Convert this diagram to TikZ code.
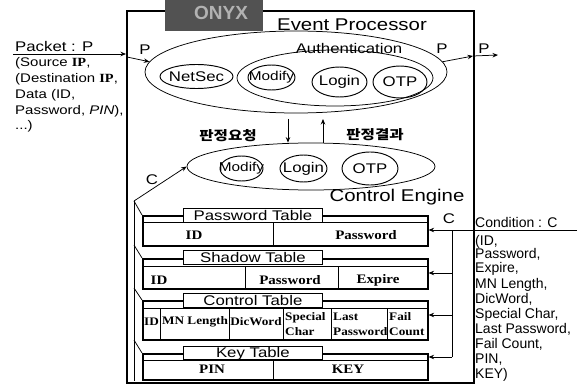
\documentclass[tikz,border=0pt]{standalone}
\usepackage{fontspec}
\setmainfont{Liberation Sans}
\newfontfamily\sw[FakeStretch=1.2]{Liberation Sans}
\newfontfamily\rw[FakeStretch=1.15]{Liberation Serif}
\newfontfamily\kr[FakeStretch=1.2]{Noto Sans CJK KR}
\usetikzlibrary{shapes.geometric,arrows.meta}

\tikzset{
  sysframe/.style={draw, line width=1.8pt, inner sep=0pt},
  onyxtag/.style={fill=black!68, inner sep=0pt},
  oval/.style={ellipse, draw, line width=0.75pt, inner sep=0pt},
  subop/.style={ellipse, draw, line width=0.95pt, inner sep=0pt},
  lbl/.style={inner sep=0pt, font=\sw\fontsize{14}{14}\selectfont},
  lblmod/.style={inner sep=0pt, font=\sw\fontsize{12.8}{12.8}\selectfont},
  bigtitle/.style={inner sep=0pt, font=\sw\fontsize{17}{17}\selectfont},
  kortext/.style={inner sep=0pt, font=\kr\bfseries\fontsize{13}{13}\selectfont},
  pktline/.style={inner sep=0pt, anchor=base west, font=\sw\fontsize{12.5}{12.5}\selectfont},
  condline/.style={inner sep=0pt, anchor=base west, font=\fontsize{14}{14}\selectfont},
  tbody/.style={draw, line width=1.6pt, inner sep=0pt, anchor=north west},
  ttitle/.style={draw, fill=white, line width=0.8pt, inner sep=0pt, anchor=north west,
                 minimum width=139pt, minimum height=14pt},
  tname/.style={inner sep=0pt, font=\sw\fontsize{14}{14}\selectfont},
  rowline/.style={line width=0.7pt},
  cell/.style={inner sep=0pt, font=\rw\bfseries\fontsize{13}{13}\selectfont},
  smcell/.style={inner sep=0pt, font=\rw\bfseries\fontsize{11.5}{11.5}\selectfont},
  smcellw/.style={smcell, anchor=base west},
  wire/.style={line width=0.75pt},
  arr/.style={wire, -{Stealth[length=5.5pt,width=4.5pt]}},
}

\begin{document}
\begin{tikzpicture}[x=1pt,y=-1pt]
\useasboundingbox (0,0) rectangle (581,385);

% ---- system frame and its tag ----
\node[sysframe, anchor=north west, minimum width=347pt, minimum height=372pt] (sys) at (126,10) {};
\node[onyxtag, anchor=north west, minimum width=98pt, minimum height=31pt] (onyx) at (165,0) {};
\node[inner sep=0pt, text=black!30, font=\bfseries\fontsize{19}{19}\selectfont] (onyxname) at (221,13) {ONYX};

% ---- event processor ----
\node[bigtitle] (eptitle) at (352,25) {Event Processor};
\node[oval, minimum width=302pt, minimum height=82pt] (ep) at (296,72) {};
\node[oval, minimum width=196pt, minimum height=56pt] (auth) at (335,78) {};
\node[lbl] (authname) at (349,48) {Authentication};

\node[subop, minimum width=73pt, minimum height=24pt] (netsec) at (196.5,76.5) {};
\node[lbl] at (netsec) {NetSec};
\node[subop, minimum width=47pt, minimum height=25pt] (modA) at (271.5,77.5) {};
\node[lblmod] at (modA) {Modify};
\node[subop, minimum width=55pt, minimum height=30pt] (loginA) at (339.5,82) {};
\node[lbl] at (loginA) {Login};
\node[subop, minimum width=54pt, minimum height=32pt] (otpA) at (400,82) {};
\node[lbl] at (otpA) {OTP};

% ---- control engine ----
\node[oval, minimum width=248pt, minimum height=47pt] (ce) at (311,166.5) {};
\node[subop, minimum width=43pt, minimum height=25pt] (modB) at (241.5,168.5) {};
\node[lblmod] at (modB) {Modify};
\node[subop, minimum width=47pt, minimum height=27pt] (loginB) at (303.5,168.5) {};
\node[lbl] at (loginB) {Login};
\node[subop, minimum width=56pt, minimum height=33pt] (otpB) at (370,168.5) {};
\node[lbl] at (otpB) {OTP};
\node[bigtitle] (cetitle) at (397,197) {Control Engine};

% ---- request / result between the two engines ----
\coordinate (req) at (288,119);
\coordinate (res) at (323,119);
\draw[arr] (req) -- (req |- ce.north);
\draw[arr] (res |- ce.north) -- (res);
\node[kortext] (reqname) at (228,136) {판정요청};
\node[kortext] (resname) at (375,135) {판정결과};

% ---- packet in and out ----
\node[lbl, anchor=base west] (pkt) at (15,52) {Packet : P};
\coordinate (pktstart) at (13,54);
\draw[arr] (pktstart) -- (pktstart -| sys.west);
\coordinate (pin) at (127,57);
\draw[arr] (pin) -- (ep.176);
\node[lbl] (pinlbl) at (145,50) {P};
\coordinate (pout) at (473,56);
\coordinate (pend) at (498,55);
\draw[arr] (ep.4) -- (pout);
\draw[arr] (pout) -- (pend);
\node[lbl] (poutlbl) at (442,49) {P};
\node[lbl] (pendlbl) at (484,49) {P};

\node[pktline] (pk1) at (15,67) {(Source {\rw\bfseries IP},};
\node[pktline] (pk2) at (15,83) {(Destination {\rw\bfseries IP},};
\node[pktline] (pk3) at (15,99) {Data (ID,};
\node[pktline] (pk4) at (15,115) {Password, {\itshape PIN}),};
\node[pktline] (pk5) at (15,130) {...)};

% ---- tables ----
% Password Table
\node[tbody, minimum width=285pt, minimum height=30pt] (pwt) at (142,215) {};
\draw[rowline] (142,222) -- (427,222);
\draw[rowline] (273,222) -- (273,245);
\node[ttitle] (pwtt) at (183,208) {};
\node[tname] at ([yshift=-0.5pt]pwtt.center) {Password Table};
\node[cell] at (194,235) {ID};
\node[cell] at (366,235) {Password};

% Shadow Table
\node[tbody, minimum width=285pt, minimum height=30pt] (sdt) at (142,258) {};
\draw[rowline] (142,266) -- (427,266);
\draw[rowline] (245,266) -- (245,288);
\draw[rowline] (338,266) -- (338,288);
\node[ttitle] (sdtt) at (183,250) {};
\node[tname] at ([yshift=-0.5pt]sdtt.center) {Shadow Table};
\node[cell] at (159,280) {ID};
\node[cell] at (290,280) {Password};
\node[cell] at (378,280) {Expire};

% Control Table
\node[tbody, minimum width=285pt, minimum height=39pt] (ctt) at (142,300) {};
\draw[rowline] (142,308) -- (427,308);
\foreach \cx in {160,229,283,331,387} \draw[rowline] (\cx,308) -- (\cx,339);
\node[ttitle] (cttt) at (183,293) {};
\node[tname] at ([yshift=-0.5pt]cttt.center) {Control Table};
\node[smcell] at (151.5,322) {ID};
\node[smcell] at (195,322) {MN Length};
\node[smcell] at (256,322) {DicWord};
\node[smcellw] at (285,320) {Special};
\node[smcellw] at (285,335) {Char};
\node[smcellw] at (333,320) {Last};
\node[smcellw] at (333,335) {Password};
\node[smcellw] at (389,320) {Fail};
\node[smcellw] at (389,335) {Count};

% Key Table
\node[tbody, minimum width=285pt, minimum height=26pt] (kyt) at (142,353) {};
\draw[rowline] (142,360) -- (427,360);
\draw[rowline] (273,360) -- (273,379);
\node[ttitle, minimum height=13pt] (kytt) at (183,346) {};
\node[tname] at ([yshift=-0.5pt]kytt.center) {Key Table};
\node[cell] at (212,369) {PIN};
\node[cell] at (348,369) {KEY};

% ---- condition bus (right) ----
\coordinate (condend) at (577,230);
\coordinate (j1) at (452,230);
\coordinate (j2) at (452,273);
\coordinate (j3) at (452,315);
\coordinate (j4) at (452,357);
\draw[wire] (condend) -- (j1) -- (j4);
\draw[arr] (j1) -- (j1 -| pwt.east);
\draw[arr] (j2) -- (j2 -| sdt.east);
\draw[arr] (j3) -- (j3 -| ctt.east);
\draw[arr] (j4) -- (j4 -| kyt.east);
\node[lbl] (clbl) at (449,219) {C};

\node[condline] (cd0) at (475,227) {Condition : C};
\node[condline] (cd1) at (475,245) {(ID,};
\node[condline] (cd2) at (475,258) {Password,};
\node[condline] (cd3) at (475,272) {Expire,};
\node[condline] (cd4) at (475,288) {MN Length,};
\node[condline] (cd5) at (475,303) {DicWord,};
\node[condline] (cd6) at (475,318) {Special Char,};
\node[condline] (cd7) at (475,333) {Last Password,};
\node[condline] (cd8) at (475,348) {Fail Count,};
\node[condline] (cd9) at (475,363) {PIN,};
\node[condline] (cd10) at (475,378) {KEY)};

% ---- table bus (left) up to the control engine ----
\coordinate (cl) at (134,201);
\coordinate (clend) at (134,381);
\draw[wire] (cl) -- (clend);
\draw[wire] (cl) -- (pwt.north west);
\draw[wire] (134,245) -- (sdt.north west);
\draw[wire] (134,288) -- (ctt.north west);
\draw[wire] (134,340) -- (kyt.north west);
\draw[arr] (cl) -- (ce.west);
\node[lbl] (cllbl) at (152,180) {C};
\end{tikzpicture}
\end{document}
